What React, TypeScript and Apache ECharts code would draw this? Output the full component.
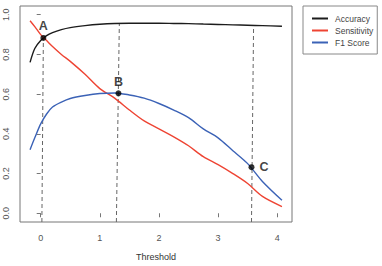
import React, { useEffect, useRef } from "react";
import * as echarts from "echarts";

const thresholds = [-0.18, -0.1, 0, 0.1, 0.2, 0.35, 0.5, 0.75, 1.0, 1.25, 1.5, 1.75, 2.0, 2.25, 2.5, 2.75, 3.0, 3.25, 3.5, 3.75, 4.08];
const accuracy = [0.76, 0.83, 0.87, 0.895, 0.91, 0.925, 0.935, 0.945, 0.952, 0.956, 0.957, 0.957, 0.957, 0.956, 0.955, 0.953, 0.951, 0.949, 0.947, 0.945, 0.942];
const sensitivity = [0.97, 0.94, 0.9, 0.87, 0.84, 0.8, 0.765, 0.7, 0.628, 0.58, 0.52, 0.465, 0.425, 0.385, 0.34, 0.285, 0.245, 0.2, 0.15, 0.085, 0.034];
const f1Score = [0.32, 0.38, 0.45, 0.5, 0.535, 0.56, 0.578, 0.593, 0.603, 0.606, 0.596, 0.58, 0.553, 0.52, 0.482, 0.425, 0.38, 0.315, 0.25, 0.16, 0.065];

const seriesNames = ["Accuracy", "Sensitivity", "F1 Score"];
const xTicks = [0, 1, 2, 3, 4];
const yTicks = [0, 0.2, 0.4, 0.6, 0.8, 1.0];

const pointLabels = ["A", "B", "C"];
const pointX = [0.045, 1.315, 3.565];
const pointY = [0.883, 0.604, 0.232];
const guideBottomX = [0.02, 1.28, 3.565];
const guideTopX = [0.045, 1.33, 3.6];
const guideTopY = [0.883, 0.957, 0.935];

const X_MIN = -0.35;
const X_MAX = 4.25;
const Y_MIN = -0.044;
const Y_MAX = 1.044;

const colors = ["#1c1c1c", "#ee4433", "#3b62b6"];
const FONT = "'Liberation Sans', Arial, sans-serif";

export default function App() {
  const ref = useRef<HTMLDivElement>(null);
  useEffect(() => {
    if (!ref.current) return;
    const chart = echarts.init(ref.current, undefined, { renderer: "svg" });
    const curves = [accuracy, sensitivity, f1Score].map((vals, i) => ({
      name: seriesNames[i],
      type: "line",
      data: thresholds.map((t, j) => [t, vals[j]]),
      showSymbol: false,
      smooth: 0.3,
      lineStyle: { color: colors[i], width: 1.4 },
      itemStyle: { color: colors[i] },
      z: 3,
    }));
    const guides = pointLabels.map((lab, i) => ({
      name: "guide" + lab,
      type: "line",
      data: [
        [guideBottomX[i], Y_MIN],
        [guideTopX[i], guideTopY[i]],
      ],
      showSymbol: false,
      lineStyle: { color: "#666", width: 1, type: [4, 3] },
      z: 2,
      silent: true,
    }));
    const points = {
      name: "points",
      type: "scatter",
      data: pointLabels.map((lab, i) => ({
        value: [pointX[i], pointY[i]],
        label: {
          show: true,
          formatter: lab,
          position: i === 2 ? "right" : "top",
          distance: i === 2 ? 5 : 2,
        },
      })),
      symbolSize: 6,
      itemStyle: { color: "#000" },
      label: { fontSize: 12.5, fontWeight: "bold", color: "#111", fontFamily: FONT },
      z: 5,
    };
    chart.setOption({
      animation: false,
      grid: {
        left: 20,
        top: 6,
        width: 272,
        height: 220,
        show: true,
        borderColor: "#777",
        borderWidth: 1,
        backgroundColor: "transparent",
      },
      legend: {
        data: seriesNames,
        orient: "vertical",
        left: 303,
        top: 6,
        padding: [8, 4, 7, 9],
        itemGap: 3,
        itemWidth: 16,
        itemHeight: 2,
        icon: "rect",
        borderColor: "#888",
        borderWidth: 1,
        borderRadius: 0,
        textStyle: { fontSize: 8.5, color: "#444", fontFamily: FONT, padding: [0, 0, 0, 2] },
      },
      xAxis: {
        type: "value",
        min: X_MIN,
        max: X_MAX,
        axisLine: { show: false },
        splitLine: { show: false },
        axisTick: { show: true, customValues: xTicks, length: 4, lineStyle: { color: "#777" } },
        axisLabel: {
          customValues: xTicks,
          formatter: (v: number) => String(v),
          fontSize: 9,
          color: "#555",
          margin: 11,
          fontFamily: FONT,
        },
        name: "Threshold",
        nameLocation: "middle",
        nameGap: 30,
        nameTextStyle: { fontSize: 9, color: "#333", fontFamily: FONT },
      },
      yAxis: {
        type: "value",
        min: Y_MIN,
        max: Y_MAX,
        axisLine: { show: false },
        splitLine: { show: false },
        axisTick: { show: true, customValues: yTicks, length: 4, lineStyle: { color: "#777" } },
        axisLabel: {
          customValues: yTicks,
          formatter: (v: number) => v.toFixed(1),
          rotate: 90,
          fontSize: 9,
          color: "#555",
          margin: 10,
          fontFamily: FONT,
        },
      },
      series: [...guides, ...curves, points],
    });
    return () => chart.dispose();
  }, []);
  return (
    <div
      ref={ref}
      style={{ position: "fixed", left: 0, top: 0, width: 382, height: 266, background: "#fff" }}
    />
  );
}
